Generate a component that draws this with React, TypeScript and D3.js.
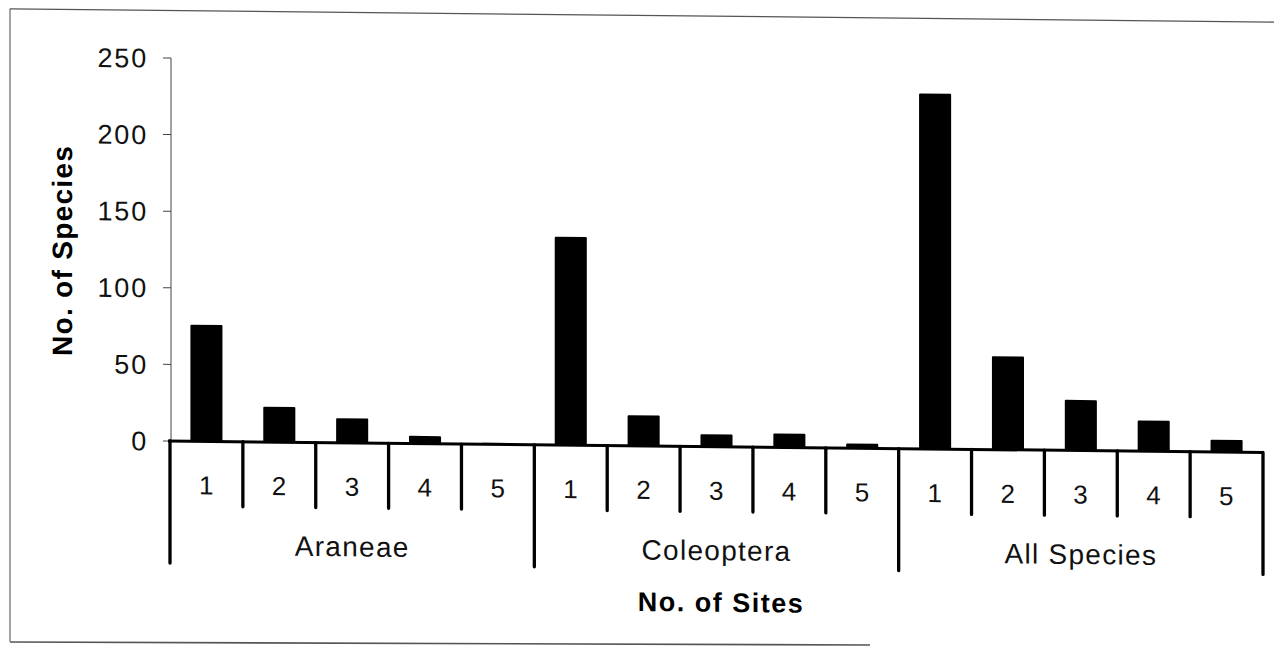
import * as d3 from "d3";

// Number of sites at which a species was found, per taxon group
const GROUPS = ["Araneae", "Coleoptera", "All Species"];
const SITES = ["1", "2", "3", "4", "5"];
const ARANEAE = [76, 23, 16, 5, 1];
const COLEOPTERA = [136, 20, 8, 9, 3];
const ALL_SPECIES = [232, 61, 33, 20, 8];
const Y_TICKS = [0, 50, 100, 150, 200, 250];

const SERIES = [ARANEAE, COLEOPTERA, ALL_SPECIES];

const W = 1274;
const H = 652;
const FONT = "'Liberation Sans', Arial, Helvetica, sans-serif";
// the scan is slightly skewed: right side sits lower
const SKEW = 0.6;

const margin = { left: 170, right: 11, top: 58, baseline: 441 };

export default function App() {
  const rows = GROUPS.flatMap((g, gi) =>
    SITES.map((s, si) => ({ key: `${g}-${s}`, group: g, site: s, value: SERIES[gi][si] }))
  );

  const x = d3.scaleBand<string>()
    .domain(rows.map(d => d.key))
    .range([margin.left, W - margin.right])
    .padding(0);

  const y = d3.scaleLinear().domain([0, 250]).range([margin.baseline, margin.top]);

  const step = x.step();
  const barW = step * 0.44;
  const innerTickLen = 65;
  const groupTickLen = 122;
  const x0 = margin.left;
  const x1 = W - margin.right;

  const groupStart = (g: string) => x(`${g}-${SITES[0]}`) ?? 0;
  const groupEnd = (g: string) => (x(`${g}-${SITES[SITES.length - 1]}`) ?? 0) + step;

  return (
    <svg
      width={W}
      height={H}
      viewBox={`0 0 ${W} ${H}`}
      style={{ position: "absolute", left: 0, top: 0, background: "#fff", display: "block" }}
    >
      {/* page frame bottom edge (scanned at its own angle) */}
      <line x1={10} x2={870} y1={642} y2={645} stroke="#555" strokeWidth={1.6} />

      <g transform={`translate(${x0},0) skewY(${SKEW}) translate(${-x0},0)`} fontFamily={FONT}>
        {/* page frame */}
        <line x1={10} x2={10} y1={10.5} y2={643.5} stroke="#666" strokeWidth={1.2} />
        <line x1={10} x2={W + 20} y1={10.5} y2={10.5} stroke="#555" strokeWidth={1.3} />

        {/* y axis */}
        <line x1={x0 + 1} x2={x0 + 1} y1={y(250)} y2={y(0)} stroke="#444" strokeWidth={1} />
        {Y_TICKS.map(t => (
          <g key={t}>
            <line x1={x0 - 7} x2={x0 + 1} y1={y(t)} y2={y(t)} stroke="#444" strokeWidth={1} />
            <text
              x={148}
              y={y(t)}
              dy="0.36em"
              textAnchor="end"
              fontSize={27}
              letterSpacing={1.8}
              fill="#111"
            >
              {t}
            </text>
          </g>
        ))}
        <text
          transform={`translate(62,${(y(0) + y(250)) / 2 + 2}) rotate(-90)`}
          textAnchor="middle"
          dy="0.36em"
          fontSize={28}
          fontWeight="bold"
          letterSpacing={1.3}
          fill="#000"
        >
          No. of Species
        </text>

        {/* bars */}
        {rows.map(d => (
          <rect
            key={d.key}
            x={(x(d.key) ?? 0) + (step - barW) / 2}
            y={y(d.value)}
            width={barW}
            height={y(0) - y(d.value)}
            fill="#000"
            rx={1}
          />
        ))}

        {/* category axis */}
        <line x1={x0 - 2} x2={x1} y1={y(0)} y2={y(0)} stroke="#000" strokeWidth={3} />
        {rows.map((d, i) => {
          const isGroupStart = i % SITES.length === 0;
          const xs = x(d.key) ?? 0;
          return (
            <g key={d.key}>
              <line
                x1={xs}
                x2={xs}
                y1={y(0)}
                y2={y(0) + (isGroupStart ? groupTickLen : innerTickLen)}
                stroke="#000"
                strokeWidth={3.3}
                strokeLinecap="round"
              />
              <text
                x={xs + step / 2}
                y={494}
                textAnchor="middle"
                fontSize={26}
                letterSpacing={0.5}
                fill="#111"
              >
                {d.site}
              </text>
            </g>
          );
        })}
        <line
          x1={x1}
          x2={x1}
          y1={y(0)}
          y2={y(0) + groupTickLen}
          stroke="#000"
          strokeWidth={3.3}
          strokeLinecap="round"
        />
        {GROUPS.map(g => (
          <text
            key={g}
            x={(groupStart(g) + groupEnd(g)) / 2}
            y={554.5}
            textAnchor="middle"
            fontSize={28}
            letterSpacing={1.3}
            fill="#111"
          >
            {g}
          </text>
        ))}

        <text
          x={721}
          y={606}
          textAnchor="middle"
          fontSize={27}
          fontWeight="bold"
          letterSpacing={1.5}
          fill="#000"
        >
          No. of Sites
        </text>
      </g>
    </svg>
  );
}
